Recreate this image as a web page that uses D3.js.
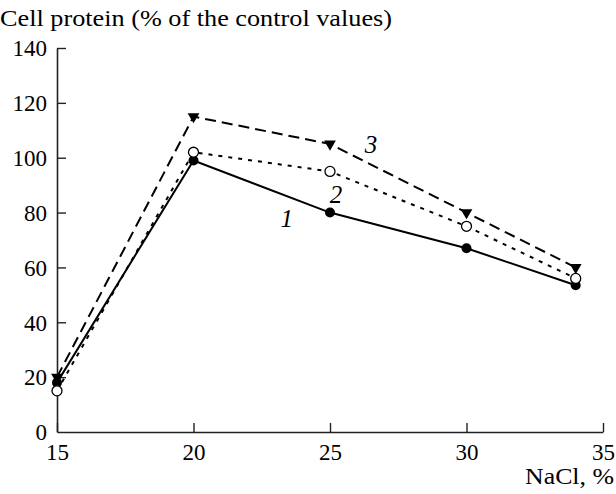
<!DOCTYPE html>
<html>
<head>
<meta charset="utf-8">
<script src="https://cdn.jsdelivr.net/npm/d3@7"></script>
<style>
  body { margin: 0; background: #fff; }
  svg { display: block; font-family: "Liberation Serif", "Times New Roman", serif; }
</style>
</head>
<body>
<svg id="chart" width="616" height="494"></svg>
<script>
const nacl = [15, 20, 25, 30, 34];
const series1 = [18, 99, 80, 67, 53.5];
const series2 = [15, 102, 95, 75, 56];
const series3 = [20, 115, 105, 80, 60];
const xTicks = [15, 20, 25, 30, 35];
const yTicks = [0, 20, 40, 60, 80, 100, 120, 140];

const svg = d3.select("#chart");
const margins = [48, 13, 62, 57]; // top, right, bottom, left
const [mt, mr, mb, ml] = margins;
const W = 616, H = 494;

const x = d3.scaleLinear().domain([15, 35]).range([ml, W - mr]);
const y = d3.scaleLinear().domain([0, 140]).range([H - mb, mt]);

// axes, ticks pointing inward
const xAxis = svg.append("g")
  .attr("transform", `translate(0,${y(0)})`)
  .call(d3.axisBottom(x).tickValues(xTicks).tickSizeInner(-9).tickSizeOuter(0).tickPadding(0))
  .attr("font-family", null).attr("font-size", null);
xAxis.select(".domain").attr("stroke", "#222").attr("stroke-width", 1.6);
xAxis.selectAll(".tick line").attr("stroke", "#222").attr("stroke-width", 1.4);
xAxis.selectAll(".tick text")
  .attr("font-size", "23px").attr("fill", "#000")
  .attr("dy", null).attr("y", 28);

const yAxis = svg.append("g")
  .attr("transform", `translate(${x(15)},0)`)
  .call(d3.axisLeft(y).tickValues(yTicks).tickSizeInner(-9).tickSizeOuter(0).tickPadding(0))
  .attr("font-family", null).attr("font-size", null);
yAxis.select(".domain").attr("stroke", "#222").attr("stroke-width", 1.6);
yAxis.selectAll(".tick line").attr("stroke", "#222").attr("stroke-width", 1.4);
yAxis.selectAll(".tick text")
  .attr("font-size", "23px").attr("fill", "#000")
  .attr("x", -10).attr("dy", "0.34em");
yAxis.selectAll(".tick").filter(d => d === 0).select("line").remove();

// axis titles
svg.append("text")
  .attr("x", 0).attr("y", 26)
  .attr("font-size", "24px")
  .attr("textLength", 392)
  .attr("lengthAdjust", "spacingAndGlyphs")
  .text("Cell protein (% of the control values)");

svg.append("text")
  .attr("x", 525).attr("y", 484)
  .attr("font-size", "23px")
  .attr("textLength", 89)
  .attr("lengthAdjust", "spacingAndGlyphs")
  .text("NaCl, %");

const line = d3.line().x(d => x(d[0])).y(d => y(d[1]));

function drawLine(vals, dash) {
  svg.append("path")
    .datum(d3.zip(nacl, vals))
    .attr("fill", "none")
    .attr("stroke", "#000")
    .attr("stroke-width", 2)
    .attr("stroke-dasharray", dash)
    .attr("d", line);
}

drawLine(series1, null);
drawLine(series3, "11,6");
drawLine(series2, "4,6");

// markers
svg.append("g").selectAll("circle")
  .data(d3.zip(nacl, series1))
  .join("circle")
  .attr("cx", d => x(d[0])).attr("cy", d => y(d[1]))
  .attr("r", 5).attr("fill", "#000");

const tri = d3.symbol().type(d3.symbolTriangle).size(60);
svg.append("g").selectAll("path")
  .data(d3.zip(nacl, series3))
  .join("path")
  .attr("transform", d => `translate(${x(d[0])},${y(d[1])}) rotate(180)`)
  .attr("d", tri)
  .attr("fill", "#000");

svg.append("g").selectAll("circle")
  .data(d3.zip(nacl, series2))
  .join("circle")
  .attr("cx", d => x(d[0])).attr("cy", d => y(d[1]))
  .attr("r", 5).attr("fill", "#fff")
  .attr("stroke", "#000").attr("stroke-width", 1.3);

// curve numbers
const curveLabels = [
  { t: "1", xv: 23.42, yv: 74.7 },
  { t: "2", xv: 25.22, yv: 83.5 },
  { t: "3", xv: 26.5, yv: 101.7 }
];
svg.append("g").selectAll("text")
  .data(curveLabels)
  .join("text")
  .attr("x", d => x(d.xv)).attr("y", d => y(d.yv))
  .attr("font-size", "25px")
  .attr("font-style", "italic")
  .attr("text-anchor", "middle")
  .text(d => d.t);
</script>
</body>
</html>
